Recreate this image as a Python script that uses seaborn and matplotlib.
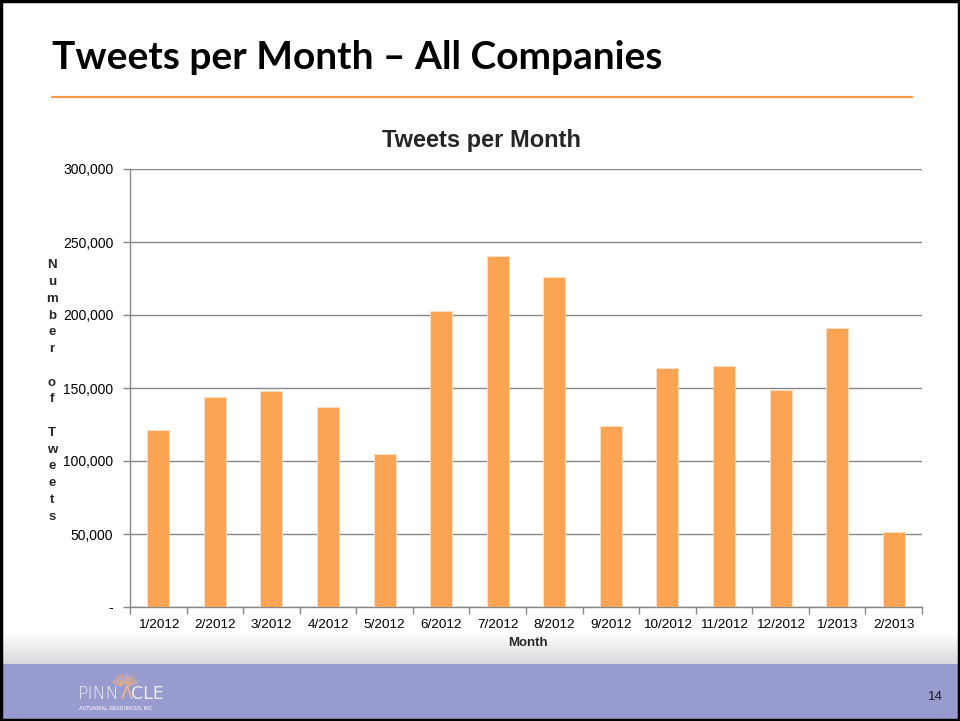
import numpy as np
import pandas as pd
import matplotlib
matplotlib.use("Agg")
import matplotlib.pyplot as plt
import seaborn as sns
from matplotlib.ticker import FuncFormatter, FixedLocator
from matplotlib.patches import Rectangle

# Monthly tweet counts
months = ["1/2012", "2/2012", "3/2012", "4/2012", "5/2012", "6/2012", "7/2012",
          "8/2012", "9/2012", "10/2012", "11/2012", "12/2012", "1/2013", "2/2013"]
tweets = [121400, 143600, 147900, 137200, 105000, 202900, 240400,
          226100, 123800, 163800, 165200, 148300, 191300, 51600]
y_ticks = [0, 50000, 100000, 150000, 200000, 250000, 300000]

slide_title = "Tweets per Month \u2013 All Companies"
chart_title = "Tweets per Month"
x_label = "Month"
y_label = "Number of Tweets"
page_no = "14"

df = pd.DataFrame({"month": months, "tweets": tweets})

sns.set_theme(style="white")
plt.rcParams["font.family"] = ["Liberation Sans", "DejaVu Sans"]

W, H = 960, 721
fig = plt.figure(figsize=(W / 100, H / 100), dpi=100)
fig.patch.set_facecolor("white")


def fx(px):
    return px / W


def fy(py):
    return 1 - py / H


# Slide background pieces (footer gradient + band)
bg = fig.add_axes([0, 0, 1, 1], zorder=-5)
bg.set_xlim(0, W)
bg.set_ylim(H, 0)
bg.axis("off")
grad = np.linspace(0, 1, 64).reshape(-1, 1)
top_c = np.array([1.0, 1.0, 1.0])
bot_c = np.array([0.85, 0.85, 0.87])
img = top_c + (bot_c - top_c) * grad
bg.imshow(img[:, None, :].repeat(2, axis=1), extent=[0, W, 664, 632],
          aspect="auto", interpolation="bilinear", zorder=0)
bg.add_patch(Rectangle((0, 664), W, 56, facecolor="#989bcd", edgecolor="none", zorder=1))
bg.add_patch(Rectangle((1, 1), W - 2.5, H - 2.5, facecolor="none", edgecolor="black",
                       linewidth=2.5, zorder=5))
# Orange rule under the slide heading
bg.plot([52, 912], [97, 97], color="#f79646", linewidth=1.6, zorder=2)

# Logo: sunburst and wordmark
cx, cy = 125, 688
for ang in np.linspace(25, 155, 13):
    a = np.deg2rad(ang)
    bg.plot([cx + 4 * np.cos(a), cx + 14 * np.cos(a)],
            [cy - 4 * np.sin(a), cy - 14 * np.sin(a)],
            color="#e9b08a", linewidth=0.9, alpha=0.8, zorder=3)
bg.text(78, 699, "PINN", color="#eeeef6", fontsize=12.5, family="DejaVu Sans",
        fontweight="light", va="baseline", ha="left", zorder=4)
bg.text(121, 699, "\u039b", color="#eeb88c", fontsize=12.5, family="DejaVu Sans",
        va="baseline", ha="left", zorder=4)
bg.text(131, 699, "CLE", color="#eeeef6", fontsize=12.5, family="DejaVu Sans",
        va="baseline", ha="left", zorder=4)
bg.text(79, 709, "ACTUARIAL RESOURCES, INC.", color="#e6e6f2", fontsize=3.6,
        fontweight="bold", va="baseline", ha="left", zorder=4)

# Slide heading
fig.text(fx(52), fy(69), slide_title, fontsize=28, fontweight="bold",
         family=["Lato", "DejaVu Sans"], color="black", ha="left", va="baseline")

# Chart area
ax = fig.add_axes([fx(130), fy(607), fx(922 - 130), (607 - 169) / H])
sns.barplot(data=df, x="month", y="tweets", color="#fba454", width=0.39,
            edgecolor="#fde0c4", linewidth=0.6, saturation=1, ax=ax, zorder=3)

ax.set_ylim(0, 300000)
ax.set_xlim(-0.5, len(months) - 0.5)
ax.yaxis.set_major_locator(FixedLocator(y_ticks))
ax.yaxis.set_major_formatter(FuncFormatter(lambda v, p: "-" if v == 0 else f"{int(v):,}"))
ax.grid(axis="y", color="#878787", linewidth=1.0, zorder=0)
ax.grid(axis="x", visible=False)
ax.set_axisbelow(True)

for s in ["top", "right"]:
    ax.spines[s].set_visible(False)
for s in ["left", "bottom"]:
    ax.spines[s].set_color("#878787")
    ax.spines[s].set_linewidth(1.0)

ax.tick_params(axis="y", which="major", left=True, length=5, width=1.0,
               color="#878787", labelsize=10, labelcolor="black", pad=7, direction="out")
ax.tick_params(axis="x", which="major", bottom=False, length=0, labelsize=9.7,
               labelcolor="black", pad=9)
ax.xaxis.set_minor_locator(FixedLocator(np.arange(-0.5, len(months), 1.0)))
ax.tick_params(axis="x", which="minor", bottom=True, length=5, width=1.0,
               color="#878787", direction="out")

ax.set_xlabel("")
ax.set_ylabel("")
fig.text(fx(528), fy(643), x_label, fontsize=9.5, fontweight="bold", ha="center", va="center")
fig.text(fx(52), fy(391), "\n".join(list(y_label)), fontsize=9.5, fontweight="bold",
         ha="center", va="center", linespacing=1.53)
fig.text(fx(482), fy(140), chart_title, fontsize=17, fontweight="bold",
         ha="center", va="center")

fig.text(fx(935), fy(697), page_no, fontsize=9.5, color="#1a1a1a", ha="center", va="center")

fig.savefig("out.png", dpi=100, facecolor=fig.get_facecolor())
